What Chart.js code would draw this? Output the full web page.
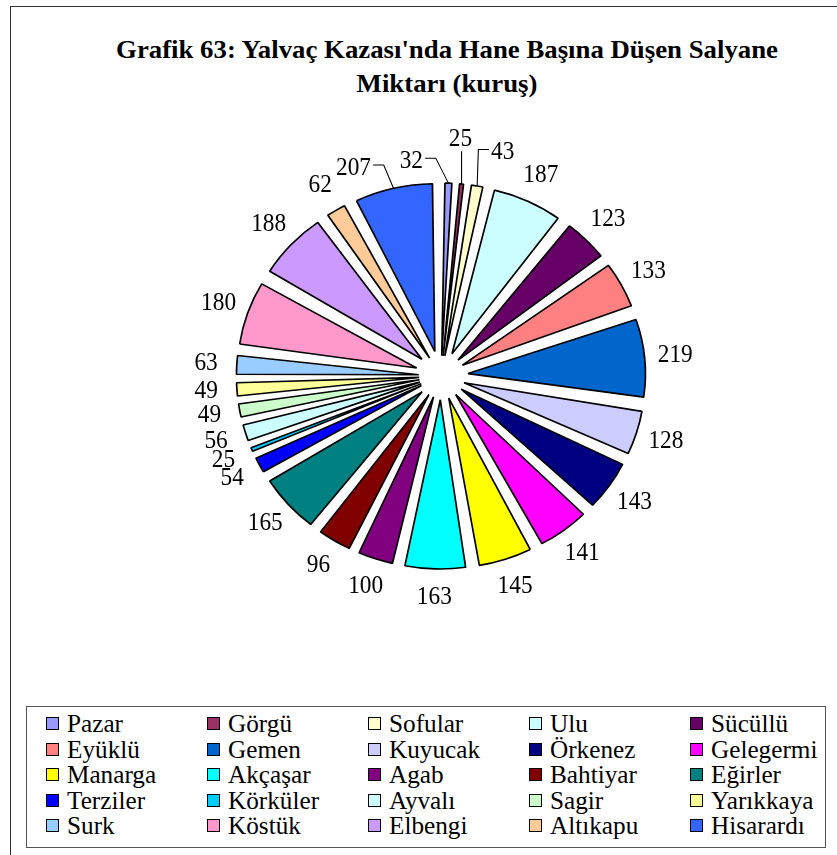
<!DOCTYPE html>
<html>
<head>
<meta charset="utf-8">
<script src="https://cdn.jsdelivr.net/npm/chart.js@4"></script>
<style>
  html, body { margin: 0; padding: 0; background: #fff; }
  #page { position: relative; width: 837px; height: 855px; overflow: hidden; font-family: "Liberation Serif", "Times New Roman", serif; color: #000; }
  #frame { position: absolute; left: 10px; top: 6px; width: 840px; height: 860px; border: 1.5px solid #333; box-sizing: border-box; }
  #title { position: absolute; left: 47px; top: 33px; width: 800px; text-align: center; font-weight: bold; font-size: 26px; line-height: 34px; transform: scaleX(1.03); transform-origin: 400px 0; }
  #pie { position: absolute; left: 0; top: 0; }
  #legend { position: absolute; left: 26px; top: 706px; width: 800px; height: 142px; border: 1.5px solid #555; box-sizing: border-box; }
  .li { position: absolute; height: 25px; line-height: 25px; font-size: 26px; white-space: nowrap; }
  .li i { position: absolute; left: 0; top: 6px; width: 11px; height: 11px; border: 1.5px solid #000; }
  .li span { position: absolute; left: 21px; top: 0; transform: scaleX(0.97); transform-origin: 0 0; }
</style>
</head>
<body>
<div id="page">
  <div id="frame"></div>
  <div id="title">Grafik 63: Yalvaç Kazası'nda Hane Başına Düşen Salyane<br>Miktarı (kuruş)</div>
  <canvas id="pie" width="837" height="700"></canvas>
  <div id="legend"></div>
</div>
<script>
// köyler / mahalleler ve hane başına salyane (kuruş)
var koyler = ['Pazar', 'Görgü', 'Sofular', 'Ulu', 'Sücüllü', 'Eyüklü', 'Gemen', 'Kuyucak', 'Örkenez', 'Gelegermi',
  'Manarga', 'Akçaşar', 'Agab', 'Bahtiyar', 'Eğirler', 'Terziler', 'Körküler', 'Ayvalı', 'Sagir', 'Yarıkkaya',
  'Surk', 'Köstük', 'Elbengi', 'Altıkapu', 'Hisarardı'];
var salyane = [32, 25, 43, 187, 123, 133, 219, 128, 143, 141,
  145, 163, 100, 96, 165, 54, 25, 56, 49, 49,
  63, 180, 188, 62, 207];
// Excel 2003 Standardpalette
var renkler = ['#9999FF', '#993366', '#FFFFCC', '#CCFFFF', '#660066', '#FF8080', '#0066CC', '#CCCCFF', '#000080', '#FF00FF',
  '#FFFF00', '#00FFFF', '#800080', '#800000', '#008080', '#0000FF', '#00CCFF', '#CCFFFF', '#CCFFCC', '#FFFF99',
  '#99CCFF', '#FF99CC', '#CC99FF', '#FFCC99', '#3366FF'];

var CX = 441, SX = 1.06;   // horizontal gestreckt wie im Excel-Export
var EXPLODE = 39;          // Verschiebung der Segmente nach außen
var LABEL_R = 222;
// verschobene Beschriftungen (mit Führungslinie)
var labelNudge = { 'Pazar': [-36, 7], 'Görgü': [-4, -16], 'Sofular': [19, -5], 'Hisarardı': [-31, 8] };

var total = salyane.reduce(function (a, b) { return a + b; }, 0);

var stretch = {
  id: 'stretch',
  beforeDraw: function (chart) { var c = chart.ctx; c.save(); c.translate(CX, 0); c.scale(SX, 1); c.translate(-CX, 0); },
  afterDraw: function (chart) { chart.ctx.restore(); }
};

var dataLabels = {
  id: 'dataLabels',
  afterDatasetsDraw: function (chart) {
    var ctx = chart.ctx;
    var arcs = chart.getDatasetMeta(0).data;
    ctx.save();
    ctx.font = '25px "Liberation Serif", "Times New Roman", serif';
    ctx.fillStyle = '#000'; ctx.strokeStyle = '#000'; ctx.lineWidth = 1;
    ctx.textAlign = 'center'; ctx.textBaseline = 'middle';
    arcs.forEach(function (a, i) {
      var mid = (a.startAngle + a.endAngle) / 2;
      var dx = Math.cos(mid), dy = Math.sin(mid);
      var lx = a.x + dx * LABEL_R, ly = a.y + dy * LABEL_R;
      var nd = labelNudge[koyler[i]];
      var txt = String(salyane[i]);
      if (nd) {
        lx += nd[0]; ly += nd[1];
        var ax = a.x + dx * (a.outerRadius + EXPLODE), ay = a.y + dy * (a.outerRadius + EXPLODE);
        var w = ctx.measureText(txt).width * 0.88;
        ctx.beginPath();
        if (Math.abs(lx - ax) < 6) {
          ctx.moveTo(ax, ly + 12); ctx.lineTo(ax, ay);
        } else if (lx < ax) {
          ctx.moveTo(lx + w / 2 + 2, ly - 3); ctx.lineTo(lx + w / 2 + 12, ly - 3); ctx.lineTo(ax, ay);
        } else {
          ctx.moveTo(lx - w / 2 - 2, ly - 3); ctx.lineTo(lx - w / 2 - 12, ly - 3); ctx.lineTo(ax, ay);
        }
        ctx.stroke();
      }
      ctx.save();
      ctx.translate(lx, ly); ctx.scale(0.88, 1);
      ctx.fillText(txt, 0, 0);
      ctx.restore();
    });
    ctx.restore();
  }
};

new Chart(document.getElementById('pie').getContext('2d'), {
  type: 'pie',
  data: {
    labels: koyler,
    datasets: [{
      data: salyane,
      backgroundColor: renkler,
      borderColor: '#000',
      borderWidth: 1.6,
      // konstante Verschiebung: Chart.js verschiebt um offset/4*(2-sin(c))
      offset: function (c) {
        var ang = 2 * Math.PI * (c.raw || 0) / total;
        return 4 * EXPLODE / (2 - Math.sin(Math.min(Math.PI, ang)));
      }
    }]
  },
  options: {
    responsive: false,
    animation: false,
    radius: 154,
    layout: { padding: { left: 45, right: 0, top: 52, bottom: 0 } },
    plugins: { legend: { display: false }, tooltip: { enabled: false }, title: { display: false } }
  },
  plugins: [stretch, dataLabels]
});

// Legende: 5 Spalten
var leg = document.getElementById('legend');
koyler.forEach(function (k, i) {
  var col = i % 5, row = Math.floor(i / 5);
  var d = document.createElement('div');
  d.className = 'li';
  d.style.left = (19 + col * 161) + 'px';
  d.style.top = (4 + row * 25.5) + 'px';
  d.innerHTML = '<i style="background:' + renkler[i] + '"></i><span>' + k + '</span>';
  leg.appendChild(d);
});
</script>
</body>
</html>
